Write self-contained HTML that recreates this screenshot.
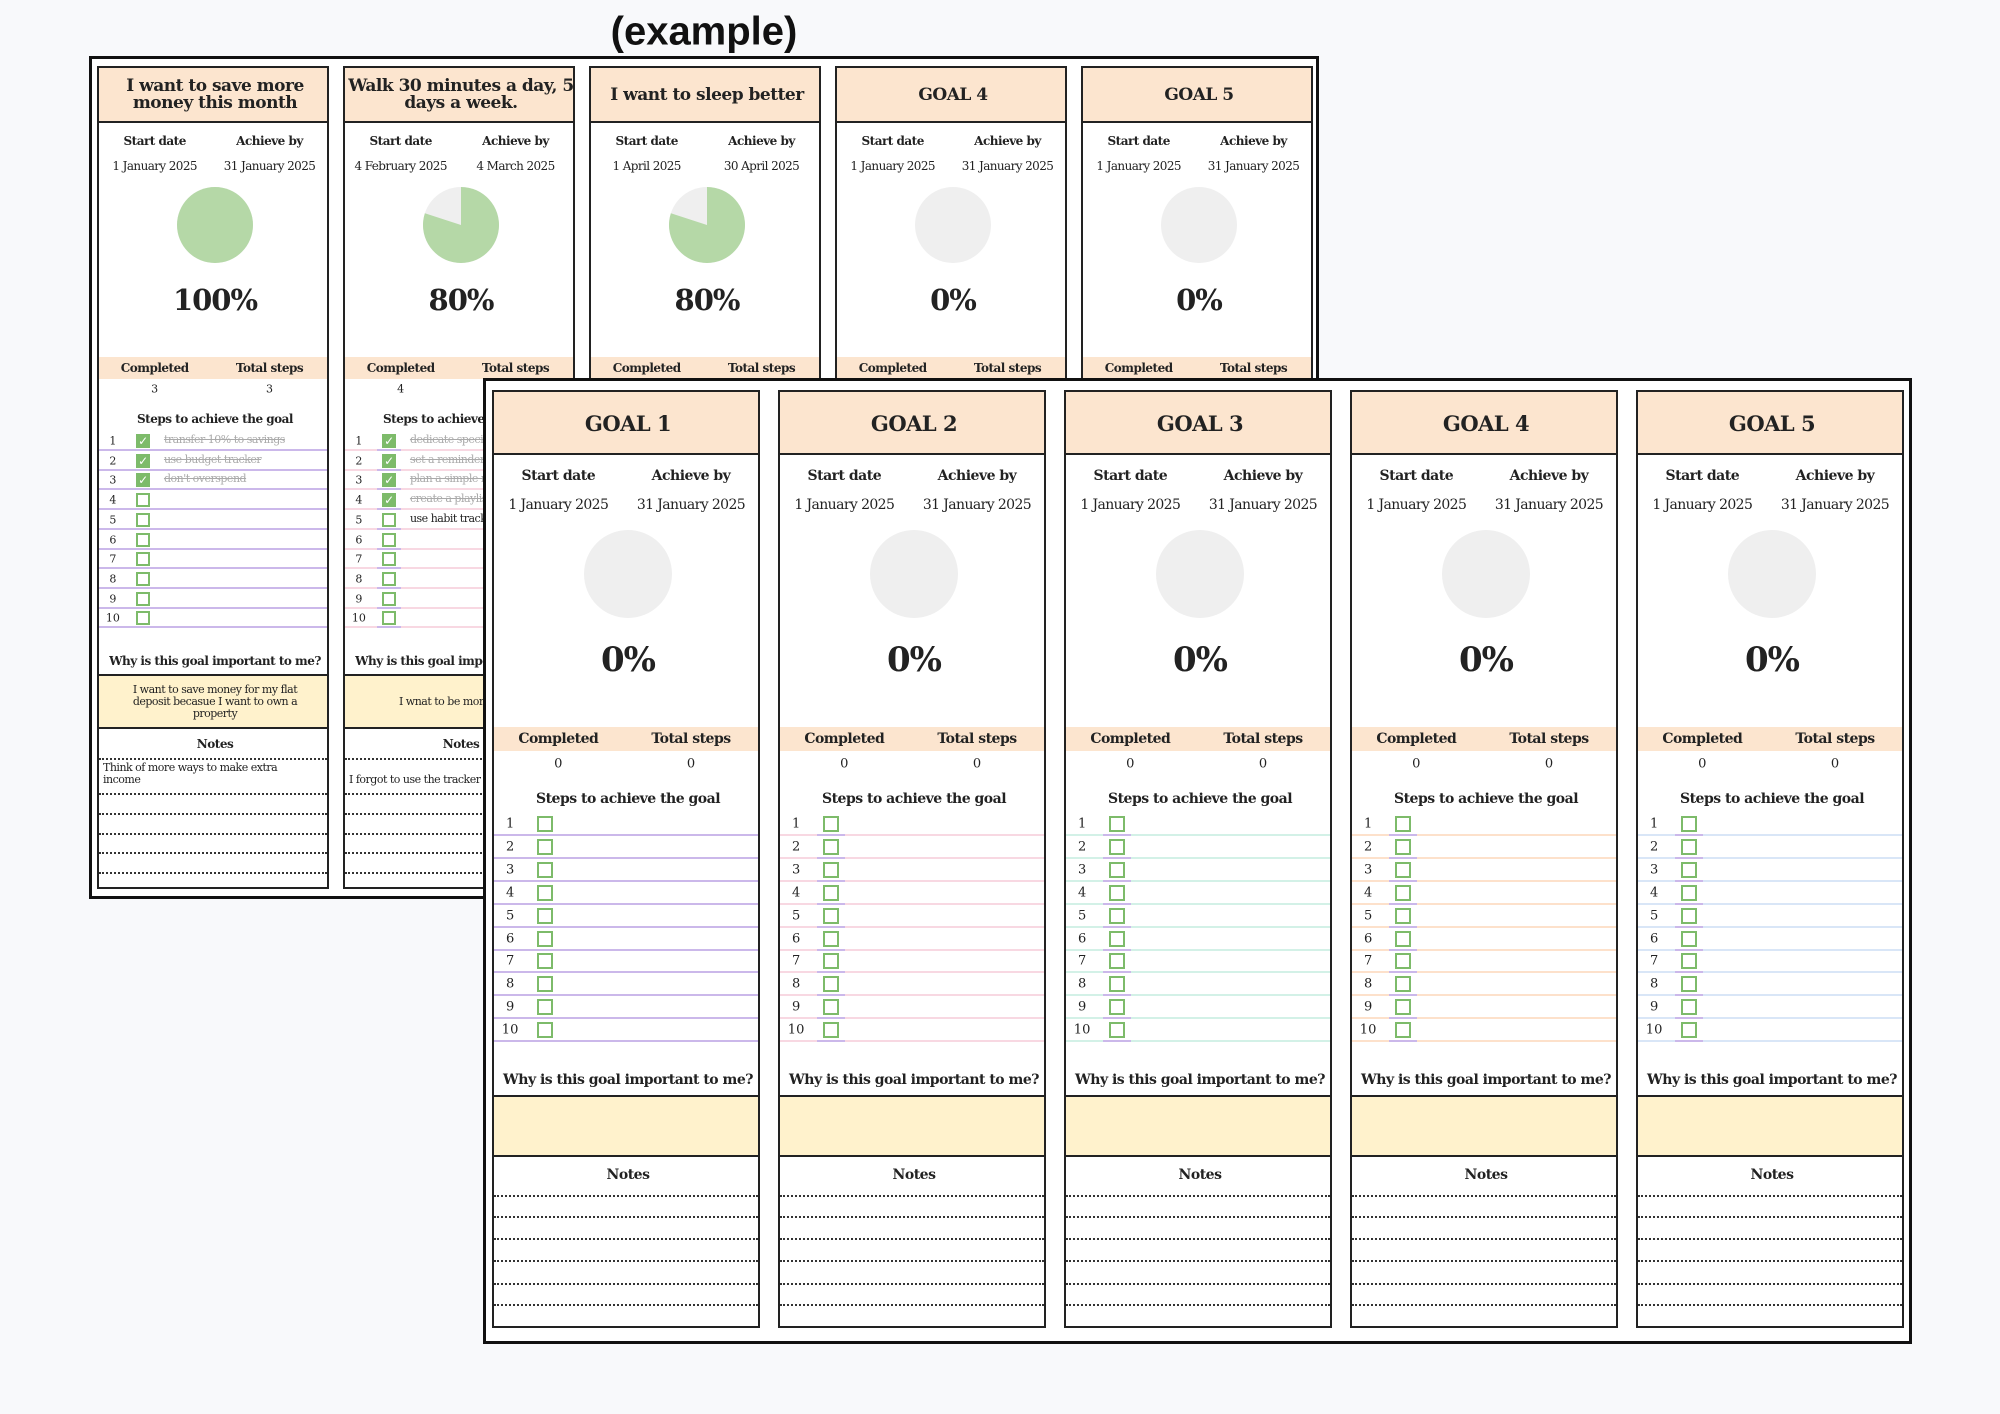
<!DOCTYPE html>
<html><head><meta charset="utf-8">
<style>
body{margin:0;width:2000px;height:1414px;background:#f8f9fb;position:relative;overflow:hidden;font-family:"DejaVu Serif","Liberation Serif",serif;color:#222}
.a{position:absolute}
.sheet{position:absolute;background:#fff;border:3px solid #111;box-sizing:border-box}
.card{position:absolute;border:2px solid #222;box-sizing:border-box;background:#fff;overflow:hidden}
.t{position:absolute;white-space:nowrap;transform:translate(-50%,-50%);text-align:center}
</style></head><body>
<div class="a" style="left:704px;top:32px;transform:translate(-50%,-50%);font-family:'Liberation Sans',sans-serif;font-weight:bold;font-size:40px;color:#111">(example)</div>
<div class="sheet" id="back" style="left:89px;top:56px;width:1230px;height:843px"></div>
<div class="sheet" id="front" style="left:483px;top:378px;width:1429px;height:966px"></div>
<script>
const backTitles=["I want to save more|money this month","Walk 30 minutes a day, 5|days a week.","I want to sleep better","GOAL 4","GOAL 5"];
const backStart=["1 January 2025","4 February 2025","1 April 2025","1 January 2025","1 January 2025"];
const backEnd=["31 January 2025","4 March 2025","30 April 2025","31 January 2025","31 January 2025"];
const backPct=[100,80,80,0,0];
const backDone=[3,4,4,0,0];
const backTotal=[3,5,5,0,0];
const backSteps=[["transfer 10% to savings","use budget tracker","don't overspend"],["dedicate specific time","set a reminder","plan a simple route","create a playlist"],[],[],[]];
const backOpen=[[],["use habit tracker"],[],[],[]];
const backWhy=["I want to save money for my flat|deposit becasue I want to own a|property","I wnat to be more active","","",""];
const backNotes=["Think of more ways to make extra|income","|I forgot to use the tracker","","",""];
const frontTitles=["GOAL 1","GOAL 2","GOAL 3","GOAL 4","GOAL 5"];
const frontPct=[0,0,0,0,0];
const lineColors=["#cbb8ea","#f8d8e2","#d3f1e7","#fde1cb","#d9e6f7"];

function el(parent,cls,name,style,html){const d=document.createElement('div');d.className=cls;


d.style.cssText=style;if(html!==undefined)d.innerHTML=html;parent.appendChild(d);return d;}
function pieSVG(cx,cy,r,pct){
  let s='<svg class="a" style="left:0;top:0" width="100%" height="100%">';
  s+=`<circle cx="${cx}" cy="${cy}" r="${r}" fill="#efefef"/>`;
  if(pct>=100)s+=`<circle cx="${cx}" cy="${cy}" r="${r}" fill="#b5d8a7"/>`;
  else if(pct>0){const a=pct/100*2*Math.PI;const x=cx+r*Math.sin(a),y=cy-r*Math.cos(a);
    s+=`<path d="M${cx},${cy} L${cx},${cy-r} A${r},${r} 0 ${a>Math.PI?1:0} 1 ${x},${y} Z" fill="#b5d8a7"/>`;}
  return s+'</svg>';
}
function card(L,T,W,cfg,i,back){
  const c=el(document.body,'card',(back?'example-goal-card-':'goal-card-')+(i+1),`left:${L}px;top:${T}px;width:${W}px;height:${cfg.bottom-T}px`);
  const y=v=>v-T;
  c.innerHTML=pieSVG(W/2,y(cfg.pie),cfg.r,back?backPct[i]:frontPct[i]);
  el(c,'a','goal-header',`left:0;top:0;width:100%;height:${cfg.hb-T}px;background:#fce5cf;border-bottom:2px solid #222;box-sizing:border-box`);
  const title=back?backTitles[i]:frontTitles[i];
  el(c,'t','goal-title',`left:${W/2}px;top:${(cfg.hb-T)/2}px;font-weight:bold;font-size:${cfg.hf}px;line-height:1.05;letter-spacing:-0.5px`,title.split('|').join('<br>'));
  el(c,'t','start-date-label',`left:${W*0.24}px;top:${y(cfg.sl)}px;font-weight:bold;font-size:${cfg.sf}px;letter-spacing:-0.5px`,'Start date');
  el(c,'t','achieve-by-label',`left:${W*0.735}px;top:${y(cfg.sl)}px;font-weight:bold;font-size:${cfg.sf}px;letter-spacing:-0.5px`,'Achieve by');
  el(c,'t','start-date-value',`left:${W*0.24}px;top:${y(cfg.dl)}px;font-size:${cfg.sf}px;letter-spacing:-0.6px`,back?backStart[i]:'1 January 2025');
  el(c,'t','achieve-by-value',`left:${W*0.735}px;top:${y(cfg.dl)}px;font-size:${cfg.sf}px;letter-spacing:-0.6px`,back?backEnd[i]:'31 January 2025');
  el(c,'t','percent-complete',`left:${W/2}px;top:${y(cfg.pc)}px;font-weight:bold;font-size:${cfg.pf}px;letter-spacing:-1px`,(back?backPct[i]:frontPct[i])+'%');
  el(c,'a','progress-band',`left:0;top:${y(cfg.b0)}px;width:100%;height:${cfg.b1-cfg.b0}px;background:#fce5cf`);
  el(c,'t','completed-label',`left:${W*0.24}px;top:${y((cfg.b0+cfg.b1)/2)}px;font-weight:bold;font-size:${cfg.sf}px;letter-spacing:-0.5px`,'Completed');
  el(c,'t','total-steps-label',`left:${W*0.735}px;top:${y((cfg.b0+cfg.b1)/2)}px;font-weight:bold;font-size:${cfg.sf}px;letter-spacing:-0.5px`,'Total steps');
  el(c,'t','completed-value',`left:${W*0.24}px;top:${y(cfg.vl)}px;font-size:${cfg.sf-1}px`,back?backDone[i]:0);
  el(c,'t','total-steps-value',`left:${W*0.735}px;top:${y(cfg.vl)}px;font-size:${cfg.sf-1}px`,back?backTotal[i]:0);
  el(c,'t','steps-title',`left:${W/2}px;top:${y(cfg.st)}px;font-weight:bold;font-size:${cfg.sf}px;letter-spacing:-0.5px`,'Steps to achieve the goal');
  const lc=back?(i==0?lineColors[0]:lineColors[1]):lineColors[i];
  for(let k=0;k<10;k++){
    const ry=y(cfg.r1+k*cfg.rp);
    el(c,'t','step-number',`left:${W*0.06}px;top:${ry}px;font-size:${cfg.sf-1}px`,k+1);
    el(c,'a','step-line',`left:0;top:${ry+cfg.lo}px;width:100%;height:2px;background:${lc}`);
    if(lc!==lineColors[0])el(c,'a','step-checkbox-underline',`left:${W*0.19-cfg.cb*0.85}px;top:${ry+cfg.lo}px;width:${cfg.cb*1.7}px;height:2px;background:#cbb8ea`);
    const done=back&&k<backSteps[i].length;
    const cb=el(c,'a','step-checkbox',`left:${W*0.19-cfg.cb/2}px;top:${ry-cfg.cb/2}px;width:${cfg.cb}px;height:${cfg.cb}px;box-sizing:border-box;border:2px solid #7dbb6a;background:${done?'#7dbb6a':'#fff'};color:#fff;font-size:${cfg.cb-2}px;line-height:${cfg.cb-4}px;text-align:center;font-family:'DejaVu Sans',sans-serif`,done?'✓':'');
    
    let txt=done?backSteps[i][k]:(back&&backOpen[i][k-backSteps[i].length]);
    if(txt)el(c,'a','step-text',`left:${W*0.28}px;top:${ry-8}px;font-size:${cfg.sf-1}px;white-space:nowrap;letter-spacing:-0.5px;color:${done?'#aaa':'#222'};text-decoration:${done?'line-through':'none'}`,txt);
  }
  el(c,'t','why-title',`left:${W/2}px;top:${y(cfg.wy)}px;font-weight:bold;font-size:${cfg.sf}px;letter-spacing:-0.5px`,'Why is this goal important to me?');
  el(c,'a','why-box',`left:0;top:${y(cfg.y0)}px;width:100%;height:${cfg.y1-cfg.y0}px;background:#fff2cc;border-top:2px solid #222;border-bottom:2px solid #222;box-sizing:border-box`);
  if(back&&backWhy[i])el(c,'t','why-text',`left:${W/2}px;top:${y((cfg.y0+cfg.y1)/2)}px;font-size:${cfg.sf-1}px;line-height:1.1;letter-spacing:-0.5px`,backWhy[i].split('|').join('<br>'));
  el(c,'t','notes-title',`left:${W/2}px;top:${y(cfg.nt)}px;font-weight:bold;font-size:${cfg.sf}px;letter-spacing:-0.5px`,'Notes');
  cfg.dots.forEach(d=>el(c,'a','notes-line',`left:0;top:${y(d)}px;width:100%;height:0;border-top:2px dotted #333`));
  if(back&&backNotes[i]){const p=backNotes[i].split('|');
    el(c,'a','notes-text',`left:4px;top:${y(cfg.dots[0])+4}px;font-size:${cfg.sf-1}px;line-height:1.1;letter-spacing:-0.5px;white-space:nowrap`,p.map(s=>s||'&nbsp;').join('<br>'));}
}
const backCfg={hb:121,hf:17,sl:139,dl:164,sf:12,pie:223,r:38,pc:298,pf:29,b0:355,b1:377,vl:387,st:417,r1:439,rp:19.7,lo:8,cb:14,wy:659,y0:672,y1:727,nt:742,dots:[756,791,811,831,850,870],bottom:889};
const frontCfg={hb:453,hf:21,sl:474,dl:503,sf:14,pie:572,r:44,pc:658,pf:34,b0:725,b1:749,vl:762,st:797,r1:822,rp:22.9,lo:10,cb:16,wy:1078,y0:1093,y1:1155,nt:1173,dots:[1193,1214,1236,1258,1281,1302],bottom:1328};
for(let i=0;i<5;i++)card(97+i*246,66,232,backCfg,i,true);
document.body.appendChild(document.getElementById('front'));
for(let i=0;i<5;i++)card(492+i*286,390,268,frontCfg,i,false);
</script>
</body></html>
